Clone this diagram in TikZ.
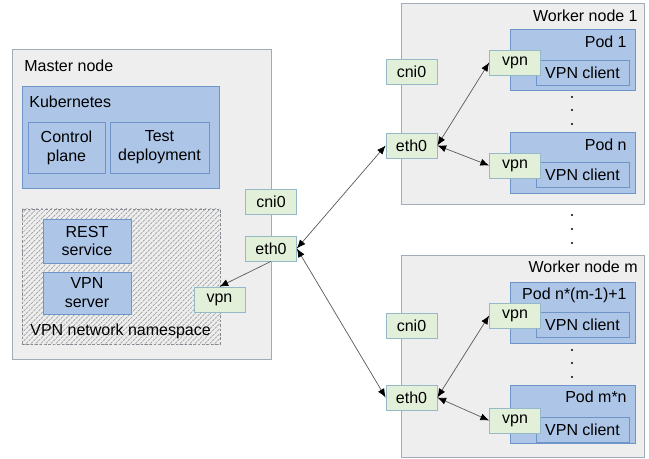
\documentclass[tikz,border=0pt]{standalone}
\usepackage{fontspec}
\setmainfont{Liberation Sans}
\usetikzlibrary{fit,arrows.meta,patterns.meta}

\definecolor{hostgray}{HTML}{EEEEEE}
\definecolor{hostedge}{HTML}{A3ABB7}
\definecolor{kubeblue}{HTML}{ADC6E8}
\definecolor{kubeedge}{HTML}{6F94C8}
\definecolor{ifgreen}{HTML}{E2EFD9}
\definecolor{ifedge}{HTML}{95B9C7}
\definecolor{hatchgray}{HTML}{A0A0A0}

\tikzset{
  hostbox/.style={draw=hostedge, fill=hostgray, inner sep=0pt},
  kubebox/.style={draw=kubeedge, fill=kubeblue, inner sep=0pt, align=center},
  nsbox/.style={draw=hostedge!80!black, dash pattern=on 1.5pt off 1pt, fill=hostgray, inner sep=0pt,
    postaction={pattern={Lines[angle=45,distance=2pt,line width=0.4pt]}, pattern color=hatchgray}},
  ifbox/.style={draw=ifedge, fill=ifgreen, minimum width=1.02cm, minimum height=0.5cm, inner sep=0pt},
  clientbox/.style={kubebox, minimum width=1.86cm, minimum height=0.5cm},
  caption/.style={inner sep=0pt},
  link/.style={draw=black!65, line width=0.4pt},
  tip/.style={-{Latex[length=5pt,width=4pt,black]}},
  tips/.style={{Latex[length=5pt,width=4pt,black]}-{Latex[length=5pt,width=4pt,black]}}
}

\begin{document}
\begin{tikzpicture}[x=0.02cm, y=-0.02cm, font=\fontsize{9.1}{10.8}\selectfont]
  \useasboundingbox (0,0) rectangle (649,459);

  % master node
  \node[hostbox, fit={(12,49) (271,359)}] (master) {};
  \node[caption, anchor=base west] (mastertxt) at (24,72) {Master node};
  \node[kubebox, fit={(22,86) (219,188)}] (kube) {};
  \node[caption, anchor=base west] (kubetxt) at (29,108) {Kubernetes};
  \node[kubebox, minimum width=1.54cm, minimum height=1.02cm] (ctrl) at (66.5,147.5) {Control\\plane};
  \node[kubebox, minimum width=1.98cm, minimum height=1.02cm] (test) at (159.5,147.5) {Test\\deployment};
  \node[nsbox, fit={(22,209) (220,344)}] (ns) {};
  \node[kubebox, minimum width=1.76cm, minimum height=0.88cm] (rest) at (87,241) {REST\\service};
  \node[kubebox, minimum width=1.76cm, minimum height=0.84cm] (vpnsrv) at (87,293) {VPN\\server};
  \node[caption, anchor=base west] (nstxt) at (30,335) {VPN network namespace};

  \node[ifbox] (cnim) at (271,202) {cni0};
  \node[ifbox] (ethm) at (271,248.5) {eth0};
  \node[ifbox] (vpnm) at (219.5,299.5) {vpn};

  % worker node 1
  \node[hostbox, fit={(401,3) (644,204)}] (wone) {};
  \node[caption, anchor=base east] (wonetxt) at (638,22) {Worker node 1};
  \node[kubebox, fit={(510,29) (635,90)}] (podone) {};
  \node[caption, anchor=base east] (podonetxt) at (627,48) {Pod 1};
  \node[clientbox] (clione) at (582.5,72.5) {VPN client};
  \node[kubebox, fit={(510,132) (635,193)}] (podn) {};
  \node[caption, anchor=base east] (podntxt) at (627,151) {Pod n};
  \node[clientbox] (clin) at (582.5,175) {VPN client};

  \node[ifbox] (cnione) at (411.5,72) {cni0};
  \node[ifbox] (ethone) at (411.5,145.5) {eth0};
  \node[ifbox] (vpnone) at (515,62.5) {vpn};
  \node[ifbox] (vpnn) at (515,165.5) {vpn};

  % worker node m
  \node[hostbox, fit={(401,255) (644,457)}] (wm) {};
  \node[caption, anchor=base east] (wmtxt) at (638,273) {Worker node m};
  \node[kubebox, fit={(510,282) (635,343)}] (podk) {};
  \node[caption, anchor=base east] (podktxt) at (627,299) {Pod n*(m-1)+1};
  \node[clientbox] (clik) at (582.5,325) {VPN client};
  \node[kubebox, fit={(510,385) (635,443)}] (podmn) {};
  \node[caption, anchor=base east] (podmntxt) at (627,402) {Pod m*n};
  \node[clientbox] (climn) at (582.5,429.5) {VPN client};

  \node[ifbox] (cnimm) at (411.5,325.5) {cni0};
  \node[ifbox] (ethmm) at (411.5,397.5) {eth0};
  \node[ifbox] (vpnk) at (515,315.5) {vpn};
  \node[ifbox] (vpnmn) at (515,420.5) {vpn};

  % dots
  \foreach \y in {97,110,124, 215,229,243, 350,363,377}
    \fill (572,\y) circle (1.2);

  % links
  \draw[link, tip] (ethm.south) -- (vpnm.north);
  \draw[link, tips] (ethm.east) -- (ethone.west);
  \draw[link, tips] (ethm.east) -- (ethmm.west);
  \draw[link, tips] (ethone.east) -- (vpnone.west);
  \draw[link, tips] (ethone.east) -- (vpnn.west);
  \draw[link, tips] (ethmm.east) -- (vpnk.west);
  \draw[link, tips] (ethmm.east) -- (vpnmn.west);
\end{tikzpicture}
\end{document}
